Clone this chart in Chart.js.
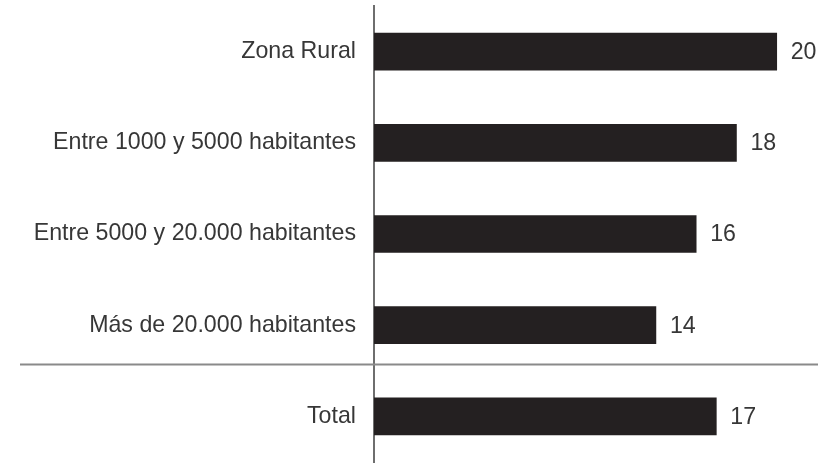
<!DOCTYPE html>
<html lang="es">
<head>
<meta charset="utf-8">
<title>Porcentaje por tamaño de municipio</title>
<script src="https://cdn.jsdelivr.net/npm/chart.js@4/dist/chart.umd.min.js"></script>
<style>
  html, body { margin: 0; padding: 0; background: #ffffff; }
  #wrap { width: 826px; height: 465px; position: relative; }
</style>
</head>
<body>
<div id="wrap"><canvas id="chart" width="826" height="465"></canvas></div>
<script>
// Categories (top to bottom) and their values
const categories = [
  'Zona Rural',
  'Entre 1000 y 5000 habitantes',
  'Entre 5000 y 20.000 habitantes',
  'Más de 20.000 habitantes',
  'Total'
];
const values = [20, 18, 16, 14, 17];

const TEXT_COLOR = '#373737';
const BAR_COLOR = '#242021';
const LINE_COLOR = '#6e6e6e';
const FONT = { family: "'Liberation Sans', Arial, Helvetica, sans-serif", size: 23.2 };

// Value printed just past the end of each bar
const valueLabels = {
  id: 'valueLabels',
  afterDatasetsDraw(chart) {
    const ctx = chart.ctx;
    const meta = chart.getDatasetMeta(0);
    ctx.save();
    ctx.fillStyle = TEXT_COLOR;
    ctx.font = FONT.size + 'px ' + FONT.family;
    ctx.textAlign = 'left';
    ctx.textBaseline = 'middle';
    meta.data.forEach((bar, i) => {
      ctx.fillText(String(chart.data.datasets[0].data[i]), bar.x + 14, bar.y + 1);
    });
    ctx.restore();
  }
};

// Horizontal rule separating the subgroups from the total
const totalSeparator = {
  id: 'totalSeparator',
  beforeDatasetsDraw(chart) {
    const y = Math.round(chart.scales.y.getPixelForValue(3.42)) + 0.5;
    const ctx = chart.ctx;
    ctx.save();
    ctx.strokeStyle = '#8a8a8a';
    ctx.lineWidth = 2;
    ctx.beginPath();
    ctx.moveTo(20, y);
    ctx.lineTo(818, y);
    ctx.stroke();
    ctx.restore();
  }
};

new Chart(document.getElementById('chart'), {
  type: 'bar',
  data: {
    labels: categories,
    datasets: [{
      data: values,
      backgroundColor: BAR_COLOR,
      borderWidth: 0,
      barThickness: 37
    }]
  },
  options: {
    indexAxis: 'y',
    responsive: false,
    animation: false,
    layout: { padding: { top: 6, bottom: 3, left: 0, right: 9 } },
    plugins: {
      legend: { display: false },
      tooltip: { enabled: false }
    },
    scales: {
      x: {
        display: false,
        min: 0,
        max: 22
      },
      y: {
        grid: { display: false, drawTicks: false },
        border: { display: true, color: LINE_COLOR, width: 2 },
        ticks: {
          color: TEXT_COLOR,
          font: FONT,
          padding: 18,
          crossAlign: 'near'
        },
        afterFit(scale) {
          // fixed label column; labels sit inside their category bands
          scale.width = 374;
          scale.paddingTop = 0;
          scale.paddingBottom = 0;
        }
      }
    }
  },
  plugins: [totalSeparator, valueLabels]
});
</script>
</body>
</html>
